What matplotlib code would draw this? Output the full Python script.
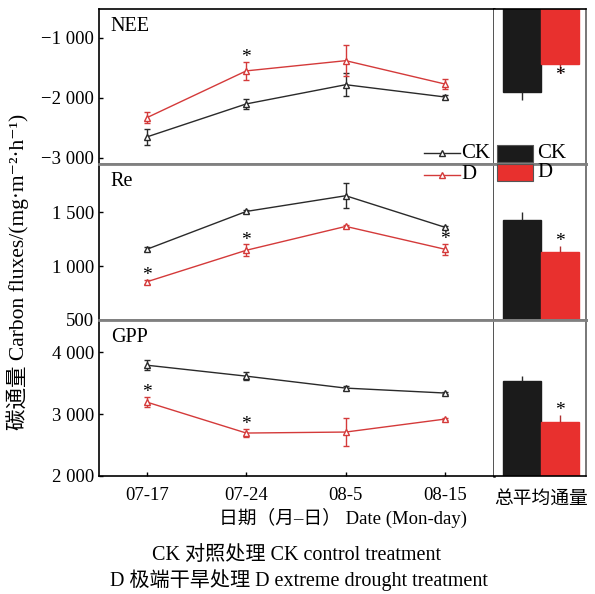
import matplotlib
matplotlib.use("Agg")
import matplotlib.pyplot as plt
from matplotlib.lines import Line2D
from matplotlib.patches import Rectangle
from matplotlib.ticker import FuncFormatter

plt.rcParams['font.family'] = ['Liberation Serif', 'Noto Sans CJK SC', 'DejaVu Sans']
plt.rcParams['font.size'] = 13
plt.rcParams['axes.unicode_minus'] = True

# 数据
dates = ["07-17", "07-24", "08-5", "08-15"]
panels = ["NEE", "Re", "GPP"]

nee_ck = [-2650, -2100, -1780, -1985]
nee_ck_err = [130, 80, 190, 40]
nee_d = [-2330, -1550, -1380, -1770]
nee_d_err = [90, 150, 260, 85]

re_ck = [1157, 1509, 1655, 1361]
re_ck_err = [20, 15, 115, 15]
re_d = [855, 1148, 1370, 1157]
re_d_err = [20, 55, 15, 50]

gpp_ck = [3790, 3613, 3420, 3340]
gpp_ck_err = [80, 60, 30, 20]
gpp_d = [3194, 2694, 2710, 2920]
gpp_d_err = [80, 60, 225, 20]

# 总平均通量 (柱状图)
bar_ck = [-1900, 1426, 3532]
bar_ck_err = [130, 75, 90]
bar_d = [-1430, 1130, 2871]
bar_d_err = [150, 55, 110]

# 显著性 (*)
sig_line = [[1], [0, 1, 3], [0, 1]]
sig_bar = [True, True, True]

ylims = [(-3100, -520), (500, 1950), (2000, 4520)]
yticks = [[-3000, -2000, -1000], [500, 1000, 1500], [2000, 3000, 4000]]

W, H = 595, 594
fig = plt.figure(figsize=(W / 100, H / 100), dpi=100)


def px(x, y):
    return x / W, 1 - y / H


rows = [(9, 164), (164, 320), (320, 476)]
lx0, lx1, rx1 = 99, 494, 586

CK_C = "#2a2a2a"
D_C = "#d43a3a"
BAR_CK = "#1b1b1b"
BAR_D = "#e8302e"
SEP = "#808080"


def fmt(v, pos):
    s = f"{abs(int(v)):,}".replace(",", " ")
    return ("\u2212" if v < 0 else "") + s


line_data = [
    (nee_ck, nee_ck_err, nee_d, nee_d_err),
    (re_ck, re_ck_err, re_d, re_d_err),
    (gpp_ck, gpp_ck_err, gpp_d, gpp_d_err),
]
x = list(range(len(dates)))

for i, (top, bot) in enumerate(rows):
    b = 1 - bot / H
    h = (bot - top) / H
    ax = fig.add_axes([lx0 / W, b, (lx1 - lx0) / W, h])
    axb = fig.add_axes([lx1 / W, b, (rx1 - lx1) / W, h], sharey=ax)

    ck, ck_e, d, d_e = line_data[i]
    ax.errorbar(x, ck, yerr=ck_e, color=CK_C, lw=1, marker="^", ms=5,
                mfc="white", mec=CK_C, mew=1, capsize=2.5, elinewidth=1)
    ax.errorbar(x, d, yerr=d_e, color=D_C, lw=1, marker="^", ms=5,
                mfc="white", mec=D_C, mew=1, capsize=2.5, elinewidth=1)
    for j in sig_line[i]:
        ax.annotate("*", (x[j], d[j] + d_e[j]), xytext=(0, -3),
                    textcoords="offset points", ha="center", va="bottom",
                    fontsize=14)

    ax.set_xlim(-0.48, 3.49)
    ax.set_ylim(*ylims[i])
    ax.set_yticks(yticks[i])
    ax.yaxis.set_major_formatter(FuncFormatter(fmt))
    ax.tick_params(direction="in", length=3, width=1, labelsize=13.5)
    ax.set_xticks(x)
    if i == 2:
        ax.set_xticklabels(dates)
        ax.tick_params(axis="x", pad=8)
    else:
        ax.tick_params(axis="x", labelbottom=False, length=0)
    ax.text(0.03, 0.95, panels[i], transform=ax.transAxes, ha="left",
            va="top", fontsize=14.5)

    # 柱状图
    axb.bar([0], [bar_ck[i]], width=1, color=BAR_CK, edgecolor=BAR_CK)
    axb.bar([1], [bar_d[i]], width=1, color=BAR_D, edgecolor=BAR_D)
    for k, (v, e) in enumerate([(bar_ck[i], bar_ck_err[i]),
                                (bar_d[i], bar_d_err[i])]):
        ec = CK_C if k == 0 else "#b03030"
        if v < 0:
            axb.errorbar([k], [v], yerr=[[e], [0]], color=ec, lw=1, capsize=0)
        else:
            axb.errorbar([k], [v], yerr=[[0], [e]], color=ec, lw=1, capsize=0)
    if sig_bar[i]:
        v, e = bar_d[i], bar_d_err[i]
        if v < 0:
            axb.annotate("*", (1, v - e), xytext=(0, 4), textcoords="offset points",
                         ha="center", va="top", fontsize=14)
        else:
            axb.annotate("*", (1, v + e), xytext=(0, -3), textcoords="offset points",
                         ha="center", va="bottom", fontsize=14)
    axb.set_xlim(-0.737, 1.684)
    axb.tick_params(left=False, labelleft=False, bottom=False)
    if i == 2:
        axb.set_xticks([0.5])
        axb.set_xticklabels(["总平均通量"])
        axb.tick_params(axis="x", pad=8, labelsize=13.5)
    else:
        axb.set_xticks([])

    for a in (ax, axb):
        for s in a.spines.values():
            s.set_linewidth(1.2)
            s.set_color("black")
        if i > 0:
            a.spines["top"].set_color(SEP)
            a.spines["top"].set_linewidth(2)
        if i < 2:
            a.spines["bottom"].set_color(SEP)
            a.spines["bottom"].set_linewidth(2)
    ax.spines["right"].set_linewidth(1.8)
    ax.spines["right"].set_color("#202020")
    axb.spines["left"].set_visible(False)
    axb.spines["right"].set_color("#606060")

# 图例
for yy, c, lab in [(153, CK_C, "CK"), (175, D_C, "D")]:
    xa, ya = px(424, yy)
    xm, _ = px(442, yy)
    xb, _ = px(460, yy)
    fig.add_artist(Line2D([xa, xm, xb], [ya, ya, ya], color=c, lw=1,
                          marker="^", ms=4.5, mfc="white", mec=c,
                          markevery=[1]))
    fig.text(xb + 1 / W, ya, lab, ha="left", va="center", fontsize=15)
for yy, c, lab in [(145, BAR_CK, "CK"), (164, BAR_D, "D")]:
    x0, y0 = px(497, yy + 17)
    fig.add_artist(Rectangle((x0, y0), 36 / W, 17 / H, facecolor=c,
                             edgecolor="#555555", lw=0.8,
                             transform=fig.transFigure))
    fig.text(537 / W, 1 - (yy + 8.5) / H, lab, ha="left", va="center",
             fontsize=15)

fig.text(18 / W, 1 - 272 / H, "碳通量 Carbon fluxes/(mg·m⁻²·h⁻¹)",
         rotation=90, ha="center", va="center", fontsize=15.5)
fig.text(343 / W, 1 - 518 / H, "日期（月–日） Date (Mon-day)", ha="center",
         va="center", fontsize=13.5)
fig.text(296 / W, 1 - 555 / H, "CK 对照处理 CK control treatment", ha="center",
         va="center", fontsize=14.5)
fig.text(299 / W, 1 - 580 / H, "D 极端干旱处理 D extreme drought treatment",
         ha="center", va="center", fontsize=14.5)

fig.savefig("out.png", dpi=100)
